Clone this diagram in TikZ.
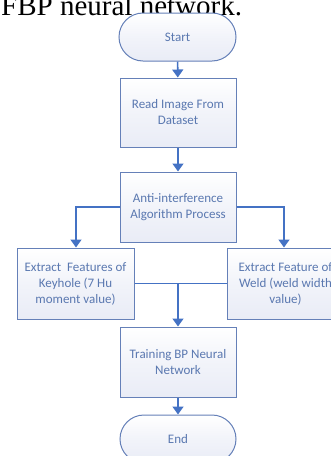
\documentclass[tikz,border=0pt]{standalone}
\usepackage{fontspec}
\setmainfont{Carlito}
\newfontfamily\titlefont{Liberation Serif}
\usetikzlibrary{arrows.meta}
\definecolor{boxline}{HTML}{6580B8}
\definecolor{boxfill}{HTML}{E9ECF6}
\definecolor{boxtext}{HTML}{5A78B0}
\definecolor{arrowblue}{HTML}{4472C4}
\tikzset{
  procbox/.style={draw=boxline, line width=1pt, top color=white, bottom color=boxfill, middle color=boxfill!60!white,
    text=boxtext, font=\fontsize{13}{16}\selectfont, align=center, inner sep=0pt,
    minimum width=116pt, minimum height=70pt},
  termbox/.style={procbox, minimum height=48pt, rounded corners=24pt},
  flow/.style={draw=arrowblue, line width=1.6pt, -{Triangle[width=11pt,length=8pt]}},
  flowline/.style={draw=arrowblue, line width=1.6pt}
}
\begin{document}
\begin{tikzpicture}[x=1pt,y=-1pt]
\useasboundingbox (0,0) rectangle (331,456);
\clip (0,0) rectangle (331,456);
\node[anchor=base west, inner sep=0pt, font=\titlefont\fontsize{29}{32}\selectfont] (title) at (1,15) {FBP neural network.};
\node[termbox, minimum width=117pt] (start) at (177.5,37) {Start};
\node[procbox, minimum height=69pt] (read) at (178,112.5) {Read Image From\\Dataset};
\node[procbox] (anti) at (178,207) {Anti-interference\\Algorithm Process};
\node[procbox, minimum width=117pt, minimum height=71pt] (left) at (75.5,283.5) {Extract\ \ Features of\\Keyhole (7 Hu\\moment value)};
\node[procbox, minimum width=117pt, minimum height=71pt] (right) at (285.5,283.5) {Extract Feature of\\Weld (weld width\\value)};
\node[procbox] (train) at (178,362) {Training BP Neural\\Network};
\node[termbox] (end) at (178,439) {End};
\coordinate (lturn) at (76,207);
\coordinate (rturn) at (284,207);
\coordinate (merge) at (178,283.5);
\draw[flow] (start) -- (read);
\draw[flow] (read) -- (anti);
\draw[flow] (anti.west) -- (lturn) -- (left.north -| lturn);
\draw[flow] (anti.east) -- (rturn) -- (right.north -| rturn);
\draw[flowline] (left.east) -- (right.west);
\draw[flow] (merge) -- (train);
\draw[flow] (train) -- (end);
\end{tikzpicture}
\end{document}
